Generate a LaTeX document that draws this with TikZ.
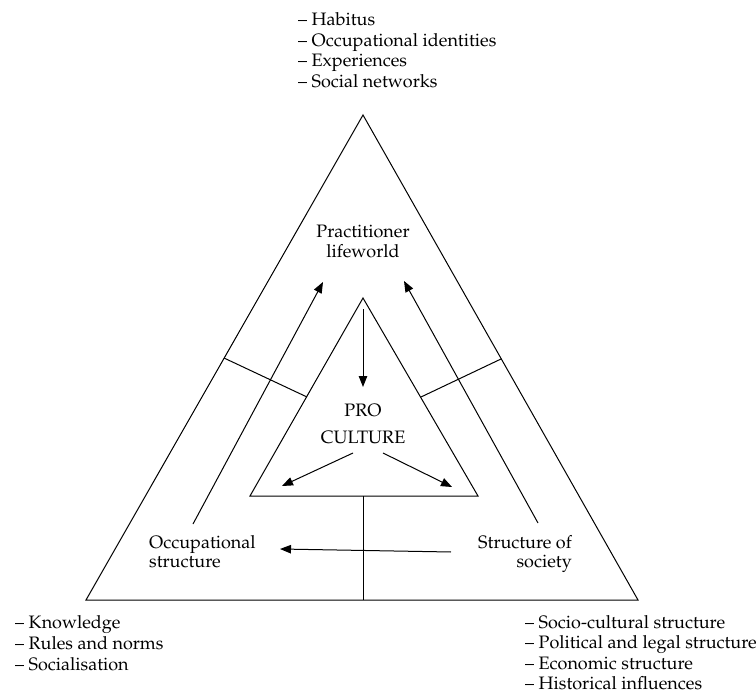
\documentclass[tikz,border=0pt]{standalone}
\usepackage[T1]{fontenc}
\usepackage{mathpazo}
\usetikzlibrary{arrows.meta}
\begin{document}
\begin{tikzpicture}[x=1pt,y=-1pt,
  frame/.style={line width=1pt, line join=miter},
  flow/.style={line width=1pt, -{Triangle[length=11pt,width=8.5pt]}},
  lbl/.style={inner sep=0pt, font=\fontsize{18}{20}\selectfont},
]
\useasboundingbox (0,0) rectangle (756,693);

% outer and inner triangles
\coordinate (oA) at (363,115);
\coordinate (oL) at (86,600);
\coordinate (oR) at (638,600);
\coordinate (iA) at (363,298);
\coordinate (iL) at (250,496);
\coordinate (iR) at (478,496);
\draw[frame] (oA) -- (oL) -- (oR) -- cycle;
\draw[frame] (iA) -- (iL) -- (iR) -- cycle;

% dividers between the three outer sectors
\coordinate (dL1) at (224,358); \coordinate (dL2) at (307,397);
\coordinate (dR1) at (421,397); \coordinate (dR2) at (501,359);
\coordinate (dB1) at (363,496); \coordinate (dB2) at (363,600);
\draw[frame] (dL1) -- (dL2);
\draw[frame] (dR1) -- (dR2);
\draw[frame] (dB1) -- (dB2);

% arrows
\coordinate (a1s) at (193,524); \coordinate (a1e) at (323,282);
\coordinate (a2s) at (538,523); \coordinate (a2e) at (404,281);
\coordinate (a3s) at (363,309); \coordinate (a3e) at (363,387);
\coordinate (a4s) at (353,453); \coordinate (a4e) at (282,486);
\coordinate (a5s) at (383,453); \coordinate (a5e) at (452,487);
\coordinate (a6s) at (451,552); \coordinate (a6e) at (280,549);
\draw[flow] (a1s) -- (a1e);
\draw[flow] (a2s) -- (a2e);
\draw[flow] (a3s) -- (a3e);
\draw[flow] (a4s) -- (a4e);
\draw[flow] (a5s) -- (a5e);
\draw[flow] (a6s) -- (a6e);

% labels inside the triangles
\node[lbl, anchor=base] (pl1) at (363,237) {Practitioner};
\node[lbl, anchor=base] (pl2) at (363,257) {lifeworld};
\node[lbl, anchor=base] (pc1) at (363,416) {PRO};
\node[lbl, anchor=base] (pc2) at (363,443) {CULTURE};
\node[lbl, anchor=base west] (os1) at (149,548) {Occupational};
\node[lbl, anchor=base west] (os2) at (149,567) {structure};
\node[lbl, anchor=base east] (ss1) at (572,548) {Structure of};
\node[lbl, anchor=base east] (ss2) at (572,567) {society};

% lists outside the corners
\node[lbl, anchor=base west] (t1) at (298,26) {-- Habitus};
\node[lbl, anchor=base west] (t2) at (298,46.5) {-- Occupational identities};
\node[lbl, anchor=base west] (t3) at (298,67) {-- Experiences};
\node[lbl, anchor=base west] (t4) at (298,87.5) {-- Social networks};

\node[lbl, anchor=base west] (l1) at (15,628) {-- Knowledge};
\node[lbl, anchor=base west] (l2) at (15,649) {-- Rules and norms};
\node[lbl, anchor=base west] (l3) at (15,670) {-- Socialisation};

\node[lbl, anchor=base west] (r1) at (525,628) {-- Socio-cultural structure};
\node[lbl, anchor=base west] (r2) at (525,648.5) {-- Political and legal structure};
\node[lbl, anchor=base west] (r3) at (525,669) {-- Economic structure};
\node[lbl, anchor=base west] (r4) at (525,689) {-- Historical influences};
\end{tikzpicture}
\end{document}
